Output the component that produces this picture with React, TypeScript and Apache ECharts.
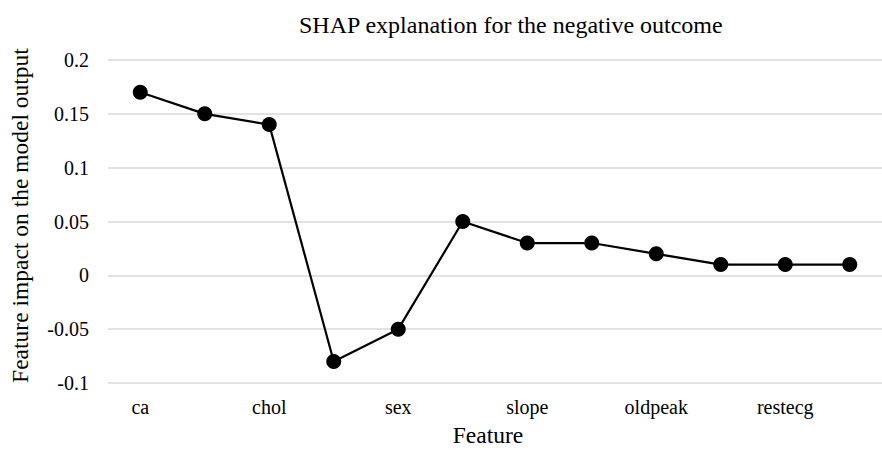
import React, { useEffect, useRef } from "react";
import * as echarts from "echarts";

const features = ["ca", "thal", "chol", "cp", "sex", "thalach", "slope", "exang", "oldpeak", "age", "restecg", "trestbps"];
const shapValues = [0.17, 0.15, 0.14, -0.08, -0.05, 0.05, 0.03, 0.03, 0.02, 0.01, 0.01, 0.01];
const yTicks = { min: -0.1, max: 0.2, interval: 0.05 };

const FONT = "Liberation Serif";

export default function App() {
  const ref = useRef<HTMLDivElement>(null);
  useEffect(() => {
    if (!ref.current) return;
    const chart = echarts.init(ref.current, undefined, { renderer: "svg" });
    chart.setOption({
      animation: false,
      backgroundColor: "#ffffff",
      textStyle: { fontFamily: FONT },
      title: {
        text: "SHAP explanation for the negative outcome",
        left: 294,
        top: 8,
        textStyle: { fontFamily: FONT, fontSize: 24, fontWeight: "normal", color: "#000" },
      },
      grid: { left: 108, top: 60, width: 785, height: 330 },
      xAxis: {
        type: "category",
        data: features,
        boundaryGap: true,
        name: "Feature",
        nameLocation: "middle",
        nameGap: 40,
        nameTextStyle: { fontFamily: FONT, fontSize: 23.5, color: "#000", padding: [0, 14, 0, 0] },
        axisLine: { show: false },
        axisTick: { show: false },
        axisLabel: { interval: 1, margin: 14, fontFamily: FONT, fontSize: 20, color: "#000" },
        splitLine: { show: false },
      },
      yAxis: {
        type: "value",
        min: yTicks.min,
        max: yTicks.max,
        interval: yTicks.interval,
        name: "Feature impact on the model output",
        nameLocation: "middle",
        nameGap: 76,
        nameTextStyle: { fontFamily: FONT, fontSize: 23.5, color: "#000", padding: [0, 0, 0, 12] },
        axisLine: { show: false },
        axisTick: { show: false },
        axisLabel: {
          margin: 19,
          fontFamily: FONT,
          fontSize: 20,
          color: "#000",
          formatter: (v: number) => String(parseFloat(v.toFixed(2))),
        },
        splitLine: { show: true, lineStyle: { color: "#d9d9d9", width: 1.5 } },
      },
      series: [
        {
          type: "line",
          data: shapValues,
          symbol: "circle",
          symbolSize: 15,
          lineStyle: { color: "#000", width: 2.2 },
          itemStyle: { color: "#000" },
        },
      ],
    });
    return () => chart.dispose();
  }, []);
  return <div ref={ref} style={{ position: "fixed", left: 0, top: 0, width: 882, height: 452 }} />;
}
